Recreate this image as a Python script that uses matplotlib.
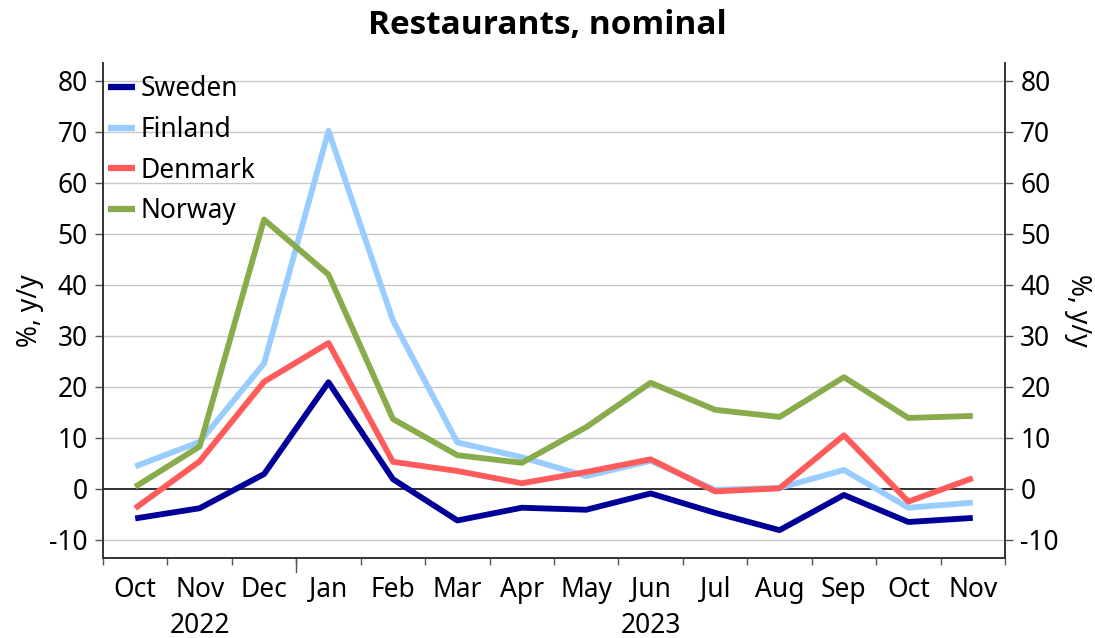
import matplotlib
matplotlib.use("Agg")
import matplotlib.pyplot as plt
from matplotlib.ticker import FixedLocator

months = ["Oct", "Nov", "Dec", "Jan", "Feb", "Mar", "Apr", "May", "Jun",
          "Jul", "Aug", "Sep", "Oct", "Nov"]
years = ["2022", "2023"]
sweden = [-5.8, -3.8, 2.9, 20.9, 1.9, -6.2, -3.7, -4.1, -0.9, -4.7, -8.1, -1.2, -6.5, -5.7]
finland = [4.4, 9.2, 24.6, 70.2, 33.0, 9.1, 6.2, 2.5, 5.5, -0.2, 0.2, 3.7, -3.7, -2.7]
denmark = [-3.8, 5.4, 21.0, 28.6, 5.3, 3.5, 1.1, 3.3, 5.8, -0.5, 0.1, 10.5, -2.5, 2.1]
norway = [0.4, 8.3, 52.8, 42.0, 13.7, 6.6, 5.1, 12.1, 20.8, 15.5, 14.1, 21.9, 13.9, 14.3]

FONT = "Noto Sans"
plt.rcParams['font.family'] = [FONT, 'DejaVu Sans']
FS = 19

fig = plt.figure(figsize=(10.95, 6.38), dpi=100)
ax = fig.add_axes([103/1095, 1 - 557.7/638, (1005-103)/1095, (557.7-63)/638])

x = list(range(len(months)))
lw = 4.2
series = [("Sweden", sweden, "#000099"),
          ("Finland", finland, "#99CCFF"),
          ("Denmark", denmark, "#FF5B5B"),
          ("Norway", norway, "#88AC4B")]
for name, vals, col in series:
    ax.plot(x, vals, color=col, lw=lw, label=name, solid_capstyle='butt', zorder=3)

ax.set_xlim(-0.5, len(months) - 0.5)
ax.set_ylim(-13.5, 83.5)
yt = list(range(-10, 81, 10))
ax.set_yticks(yt)
ax.set_yticklabels([str(v) for v in yt], fontsize=FS)
for v in yt:
    if v != 0:
        ax.axhline(v, color="#C8C8C8", lw=1.0, zorder=1)
ax.axhline(0, color="#222222", lw=1.3, zorder=2)

# x ticks
ax.set_xticks(x)
ax.set_xticklabels(months, fontsize=FS)
ax.tick_params(axis='x', which='major', length=0, pad=13)
bounds = [b - 0.5 for b in range(len(months) + 1)]
ax.xaxis.set_minor_locator(FixedLocator(bounds))
ax.tick_params(axis='x', which='minor', length=5, width=1, color="#555555")
ax.plot([2.5, 2.5], [0, -0.028], transform=ax.get_xaxis_transform(), color="#555555",
        lw=1, clip_on=False)

ax.tick_params(axis='y', which='major', length=6, width=1, color="#555555", pad=5)
ax.spines["top"].set_visible(False)
for s in ["left", "right", "bottom"]:
    ax.spines[s].set_color("#333333")
    ax.spines[s].set_linewidth(1.2)

ax2 = ax.twinx()
ax2.set_ylim(ax.get_ylim())
ax2.set_yticks(yt)
ax2.set_yticklabels([str(v) for v in yt], fontsize=FS)
ax2.tick_params(axis='y', length=6, width=1, color="#555555", pad=5)
ax2.spines["top"].set_visible(False)
for s in ["left", "right", "bottom"]:
    ax2.spines[s].set_color("#333333")
    ax2.spines[s].set_linewidth(1.2)

ax.set_ylabel("%, y/y", fontsize=FS, labelpad=4)
ax2.set_ylabel("%, y/y", fontsize=FS, rotation=270, labelpad=24)

# year labels
ax.text(1, -0.138, years[0], transform=ax.get_xaxis_transform(), ha='center', va='center', fontsize=FS)
ax.text(8, -0.138, years[1], transform=ax.get_xaxis_transform(), ha='center', va='center', fontsize=FS)

fig.text(0.5, 1 - 25/638, "Restaurants, nominal", ha='center', va='center', fontsize=24,
         fontweight='bold', family=['Open Sans', 'Lato', 'DejaVu Sans'])

leg = ax.legend(loc='upper left', bbox_to_anchor=(0.0, 0.986), frameon=False, fontsize=FS,
                handlelength=1.0, handletextpad=0.23, labelspacing=0.48, borderaxespad=0.1,
                borderpad=0.1)
for line in leg.get_lines():
    line.set_linewidth(4.5)

fig.savefig("out.png", dpi=100)
